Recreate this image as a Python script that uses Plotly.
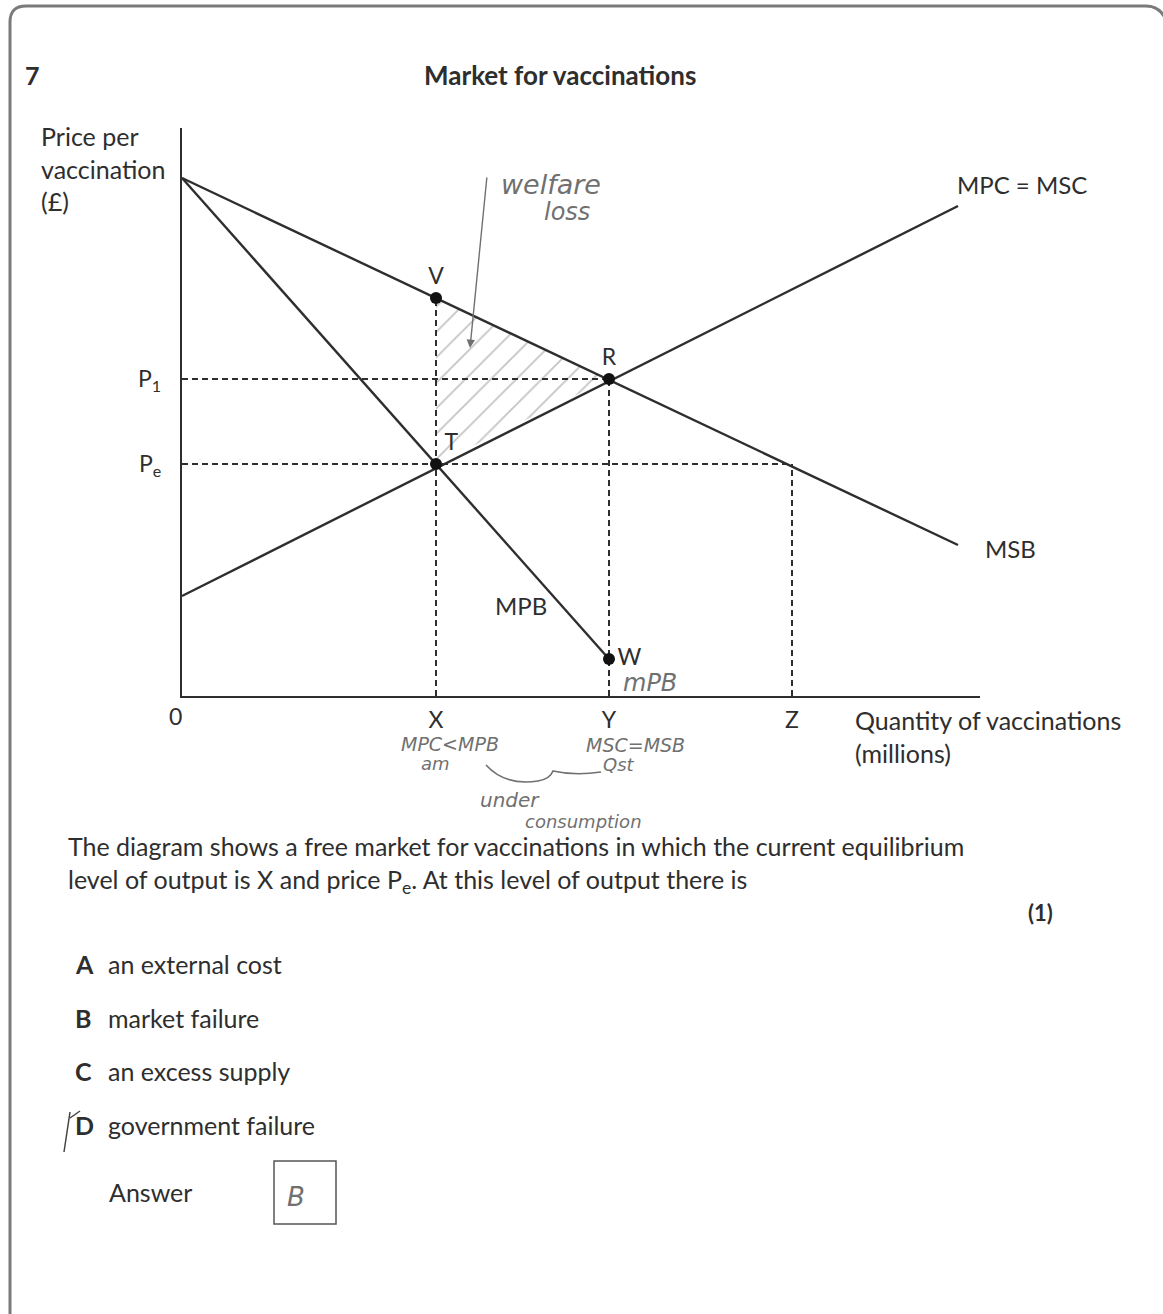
import plotly.graph_objects as go

W, H = 1163, 1314

# curves (quantity, price) in diagram units
msb_q = [0, 776]
msb_p = [518, 151]
mpb_q = [0, 427]
mpb_p = [518, 37]
mpc_q = [0, 776]
mpc_p = [100, 490]

# labelled points
point_labels = ["V", "R", "T", "W"]
point_q = [254, 427, 254, 427]
point_p = [398, 317, 232, 37]
point_textpos = ["top center", "top center", "top right", "middle right"]

# axis ticks
q_ticks = [254, 427, 610]
q_ticktext = ["X", "Y", "Z"]
p_ticks = [317, 232]
p_ticktext = ["P<sub>1</sub>", "P<sub>e</sub>"]

options = ["A", "B", "C", "D"]
option_text = ["an external cost", "market failure", "an excess supply", "government failure"]

FONT = "Lato"
HAND = "DejaVu Sans"
INK = "#2e2e2e"
PEN = "#707070"


def px(x):
    return x / W


def py(y):
    return 1 - y / H


fig = go.Figure()

# welfare loss triangle V-T-R, hatched
fig.add_trace(go.Scatter(
    x=[point_q[0], point_q[2], point_q[1], point_q[0]],
    y=[point_p[0], point_p[2], point_p[1], point_p[0]],
    mode="lines", fill="toself", line=dict(width=0),
    fillcolor="rgba(0,0,0,0)",
    fillpattern=dict(shape="/", fgcolor="#8a8a8a", bgcolor="rgba(0,0,0,0)",
                     size=18, solidity=0.1),
    hoverinfo="skip"))

# dashed guides
dash = dict(color=INK, width=2, dash="6px,4px")
fig.add_trace(go.Scatter(x=[0, point_q[1]], y=[p_ticks[0], p_ticks[0]], mode="lines", line=dash))
fig.add_trace(go.Scatter(x=[0, q_ticks[2]], y=[p_ticks[1], p_ticks[1]], mode="lines", line=dash))
fig.add_trace(go.Scatter(x=[q_ticks[0], q_ticks[0]], y=[0, point_p[0]], mode="lines", line=dash))
fig.add_trace(go.Scatter(x=[q_ticks[1], q_ticks[1]], y=[0, point_p[1]], mode="lines", line=dash))
fig.add_trace(go.Scatter(x=[q_ticks[2], q_ticks[2]], y=[0, p_ticks[1]], mode="lines", line=dash))

# curves
solid = dict(color=INK, width=2.4)
fig.add_trace(go.Scatter(x=msb_q, y=msb_p, mode="lines", line=solid))
fig.add_trace(go.Scatter(x=mpb_q, y=mpb_p, mode="lines", line=solid))
fig.add_trace(go.Scatter(x=mpc_q, y=mpc_p, mode="lines", line=solid))

fig.add_trace(go.Scatter(
    x=point_q, y=point_p, mode="markers+text", text=point_labels,
    textposition=point_textpos,
    textfont=dict(family=FONT, size=23, color=INK),
    marker=dict(size=12, color="#111")))

fig.update_layout(
    width=W, height=H, margin=dict(l=0, r=0, t=0, b=0),
    paper_bgcolor="white", plot_bgcolor="white", showlegend=False,
    font=dict(family=FONT, color=INK, size=25),
    xaxis=dict(domain=[px(182), px(980)], range=[0, 798], showgrid=False,
               zeroline=False, showline=True, linecolor=INK, linewidth=2.4,
               tickvals=q_ticks, ticktext=q_ticktext, ticks="",
               tickfont=dict(size=23), ticklabelstandoff=2),
    yaxis=dict(domain=[py(696), py(128)], range=[0, 568], showgrid=False,
               zeroline=False, showline=True, linecolor=INK, linewidth=2.4,
               tickvals=p_ticks, ticktext=p_ticktext, ticks="",
               tickfont=dict(size=23), ticklabelstandoff=14),
)


def note(text, x, y, xa="center", size=25, color=INK, bold=False, italic=False,
         align="left", family=FONT):
    fig.add_annotation(
        text=text, x=px(x), y=py(y), xref="paper", yref="paper",
        xanchor=xa, yanchor="middle", showarrow=False, align=align,
        font=dict(family=family, size=size, color=color,
                  weight="bold" if bold else "normal",
                  style="italic" if italic else "normal"))


def hand(text, x, y, size, xa="center"):
    note(text, x, y, xa=xa, size=size, color=PEN, italic=True, family=HAND)


note("7", 32, 75, bold=True)
note("Market for vaccinations", 560, 75, size=26, bold=True)
note("Price per<br>vaccination<br>(£)", 39, 168, xa="left")
note("MPC = MSC", 955, 184, xa="left", size=24)
note("MSB", 983, 548, xa="left", size=24)
note("MPB", 521, 606, size=24)
note("0", 175, 716, size=23)
note("Quantity of vaccinations<br>(millions)", 853, 736, xa="left")
note("The diagram shows a free market for vaccinations in which the current equilibrium"
     "<br>level of output is X and price P<sub>e</sub>. At this level of output there is",
     66, 864, xa="left")
note("(1)", 1040, 912, size=22, bold=True)
for i, (o, t) in enumerate(zip(options, option_text)):
    y = 964 + i * 53.7
    note(o, 73, y, xa="left", bold=True)
    note(t, 106, y, xa="left")
note("Answer", 107, 1192, xa="left")

# handwritten notes
hand("welfare", 551, 184, 27)
hand("loss", 567, 212, 24)
hand("mPB", 621, 683, 24, xa="left")
hand("MPC&lt;MPB", 450, 744, 19)
hand("am", 435, 763, 18)
hand("MSC=MSB", 635, 745, 19)
hand("Qst", 619, 764, 18)
hand("under", 510, 800, 20)
hand("consumption", 583, 821, 18)
hand("B", 296, 1197, 26)

fig.add_annotation(x=px(470), y=py(348), xref="paper", yref="paper",
                   ax=17, ay=-172, axref="pixel", ayref="pixel",
                   showarrow=True, arrowhead=2, arrowsize=1.2, arrowwidth=1.4,
                   arrowcolor=PEN, text="")

# brace under X..Y
fig.add_shape(type="path", xref="paper", yref="paper",
              path=(f"M {px(486):.5f},{py(765):.5f} Q {px(505):.5f},{py(786):.5f} {px(538):.5f},{py(781):.5f}"
                    f" Q {px(550):.5f},{py(779):.5f} {px(553):.5f},{py(771):.5f}"
                    f" Q {px(575):.5f},{py(776):.5f} {px(601):.5f},{py(772):.5f}"),
              line=dict(color=PEN, width=1.6))

# strike through D
fig.add_shape(type="line", xref="paper", yref="paper",
              x0=px(64), y0=py(1152), x1=px(70), y1=py(1112),
              line=dict(color="#444", width=1.5))
fig.add_shape(type="line", xref="paper", yref="paper",
              x0=px(70), y0=py(1118), x1=px(80), y1=py(1111),
              line=dict(color="#444", width=1.5))

# answer box
fig.add_shape(type="rect", xref="paper", yref="paper",
              x0=px(274), y0=py(1224), x1=px(336), y1=py(1161),
              line=dict(color="#555", width=1.5))

# page frame
fig.add_shape(type="path", xref="paper", yref="paper",
              path=(f"M {px(10):.5f},{py(1320):.5f} L {px(10):.5f},{py(22):.5f}"
                    f" Q {px(10):.5f},{py(6):.5f} {px(26):.5f},{py(6):.5f}"
                    f" L {px(1146):.5f},{py(6):.5f} Q {px(1160):.5f},{py(6):.5f} {px(1166):.5f},{py(20):.5f}"),
              line=dict(color="#7a7a7a", width=3))

fig.write_html("out.html", config={"displayModeBar": False},
               post_script="document.body.style.margin='0';")
